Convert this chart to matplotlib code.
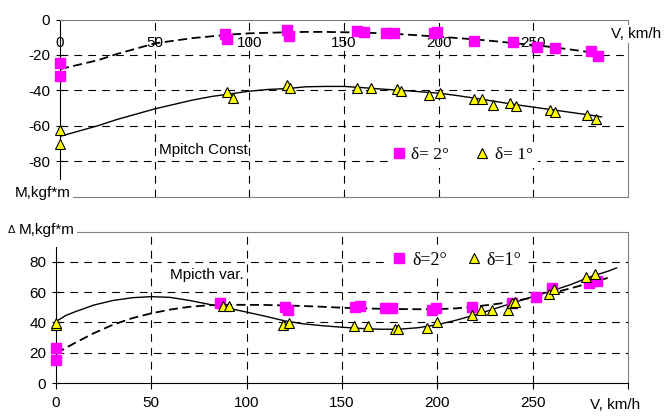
import matplotlib
matplotlib.use("Agg")
import matplotlib.pyplot as plt

plt.rcParams['font.family'] = ['Liberation Sans', 'DejaVu Sans']

speed_ticks = [0, 50, 100, 150, 200, 250, 300]
speed_labels = ['0', '50', '100', '150', '200', '250']
grid_speeds = [50, 100, 150, 200, 250]

# upper chart: pitching moment with constant setting
const_ticks = [0, -20, -40, -60, -80]
const_grid = [-20, -40, -60, -80]
const_d2_v = [0, 0, 87, 88, 120, 121, 157, 160.5, 172, 176.4, 197.6, 199.3, 218.4, 239, 252, 261.4, 280.4, 284]
const_d2_m = [-24.7, -31.8, -8, -11, -6, -9.3, -6.3, -7.2, -7.8, -7.8, -7.8, -7.2, -11.9, -12.5, -15.3, -16.2, -17.6, -20.6]
const_d1_v = [0, 0, 88.2, 91.2, 120, 121.7, 157, 164, 178, 180, 195, 200.7, 218.4, 223, 228.9, 237.6, 240.7, 258.7, 261.5, 278.3, 283]
const_d1_m = [-62.3, -70.1, -40.7, -44.4, -36.9, -38.8, -38.8, -38.8, -39.4, -40.3, -42.5, -41.6, -44.8, -44.8, -48.2, -47.2, -49.1, -51, -52.3, -53.8, -56.2]
const_fit_v = [0, 10, 20, 30, 40, 50, 60, 70, 80, 90, 100, 110, 120, 130, 140, 150, 160, 170, 180, 190, 200,
               210, 220, 230, 240, 250, 260, 270, 280, 286]
const_d2_fit = [-28, -25.5, -23, -19.5, -16.5, -13.5, -12, -10.5, -9.5, -8.5, -7.8, -7.5, -7.2, -7, -7, -7.2,
                -7.4, -7.8, -8.3, -9, -9.7, -10.5, -11.3, -12.3, -13.4, -14.4, -15.6, -17, -18.5, -19.6]
const_d1_fit = [-66, -63, -60, -56.5, -53.5, -50.5, -48, -45.5, -43.5, -42, -40.5, -39.5, -39, -38, -37.8, -37.8,
                -38.5, -39.3, -40, -40.8, -41.6, -43, -44.6, -46.3, -48, -49.5, -51, -52.5, -54, -55]

# lower chart: pitching moment increment, variable setting
var_ticks = [0, 20, 40, 60, 80]
var_grid = [20, 40, 60, 80]
var_d2_v = [0, 0, 86, 120, 121.5, 156.9, 159.5, 172.6, 176, 197, 199.4, 218, 239, 251.7, 260, 279.3, 283.7]
var_d2_m = [23.3, 15.2, 52.6, 50, 48.5, 50.4, 50.8, 49.3, 49.3, 48.2, 49.3, 50, 52.6, 57, 62.5, 65.8, 67.5]
var_d1_v = [0, 0, 87.5, 91, 119.3, 122, 156.5, 163.9, 177.9, 179.6, 194.8, 200, 218, 222.8, 228.9, 237, 239,
            240.8, 258.7, 261.3, 278, 282.8]
var_d1_m = [38.3, 39.5, 50.8, 50.8, 38.3, 39.4, 37.6, 37.6, 35.4, 35.4, 36.5, 40.5, 44.9, 48.2, 48.2, 48.2, 52.6,
            53.7, 58.5, 61.8, 70.2, 72]
var_d2_fit_v = [0, 10, 20, 30, 40, 50, 60, 70, 80, 90, 100, 110, 120, 130, 140, 150, 160, 170, 180, 190, 200,
                210, 220, 230, 240, 250, 260, 270, 280, 290]
var_d2_fit = [19.6, 26.5, 33, 38.5, 42.8, 46, 48.5, 50.3, 51.3, 51.6, 51.6, 51.5, 51.2, 50.8, 50.3, 49.7, 49.3,
              49, 48.8, 48.7, 48.7, 49.3, 50.5, 52, 53.8, 56.5, 59.3, 62.5, 66, 69.6]
var_d1_fit_v = [0, 5, 10, 20, 30, 40, 50, 60, 70, 80, 90, 100, 110, 120, 130, 140, 150, 160, 170, 180, 190, 200,
                210, 220, 230, 240, 250, 260, 270, 280, 290, 294]
var_d1_fit = [40.5, 44.5, 47, 51.5, 54.5, 56.3, 57, 56.5, 54.5, 52, 49.5, 46.8, 44, 41, 39, 37.8, 36.8, 36, 35.5,
              35.5, 36.5, 38.5, 41.5, 45, 49, 53, 57, 60.8, 65, 70, 74, 76]

gray = '#808080'
grid_kw = dict(color='black', lw=0.8, dashes=(7, 5.5), zorder=0.5)
sq_kw = dict(marker='s', ms=6.5, mfc='#ff00ff', mec='#ff00ff', ls='none', clip_on=False, zorder=4)
tri_kw = dict(marker='^', ms=7, mfc='#ffff00', mec='black', mew=0.8, ls='none', clip_on=False, zorder=5)

fig = plt.figure(figsize=(6.64, 4.16), dpi=100)
ax1 = fig.add_axes([0.0904, 0.5276, 0.8554, 0.4255])
ax2 = fig.add_axes([0.0843, 0.0793, 0.8615, 0.3642])

# ---- upper chart
ax1.set_xlim(0, 300)
ax1.set_ylim(-100, 0)
for v in grid_speeds:
    ax1.axvline(v, **grid_kw)
for m in const_grid:
    ax1.axhline(m, **grid_kw)
ax1.plot(const_fit_v, const_d2_fit, color='black', lw=1.3, dashes=(5, 2.5), zorder=3)
ax1.plot(const_fit_v, const_d1_fit, color='black', lw=1.0, zorder=3)
ax1.plot(const_d2_v, const_d2_m, label='\u03b4= 2\u00b0', **sq_kw)
ax1.plot(const_d1_v, const_d1_m, label='\u03b4= 1\u00b0', **tri_kw)

ax1.set_xticks([])
ax1.set_yticks(const_ticks)
ax1.set_yticklabels([str(t) for t in const_ticks])
ax1.tick_params(axis='y', direction='inout', length=6, width=0.8, labelsize=11, pad=4)
for s in ['top', 'right', 'bottom']:
    ax1.spines[s].set_color(gray)
ax1.spines['left'].set_bounds(-90, 0)
for v, lab in zip(speed_ticks, speed_labels):
    ax1.text(v, -13.2, lab, ha='center', va='center', fontsize=11, zorder=2)
ax1.text(52.5, -73.5, 'Mpitch Const', fontsize=11, va='center')
ax1.text(-24, -98, 'M,kgf*m', fontsize=11, va='center', clip_on=False,
         bbox=dict(fc='white', ec='none', pad=1.5), zorder=6)
ax1.text(291, -8, 'V, km/h', fontsize=11, va='center', clip_on=False,
         bbox=dict(fc='white', ec='none', pad=1.5), zorder=6)
leg1 = ax1.legend(loc='center', bbox_to_anchor=(0.71, 0.234), ncol=2, handlelength=0.6, handletextpad=0.4,
                  columnspacing=1.6, borderpad=0.3, frameon=True, fancybox=False, framealpha=1,
                  edgecolor='none', facecolor='white', prop={'family': 'Liberation Serif', 'size': 12.5})
leg1.set_zorder(6)

# ---- lower chart
ax2.set_xlim(0, 300)
ax2.set_ylim(0, 100)
for v in grid_speeds:
    ax2.axvline(v, **grid_kw)
for m in var_grid:
    ax2.axhline(m, **grid_kw)
ax2.plot(var_d2_fit_v, var_d2_fit, color='black', lw=1.3, dashes=(5, 2.5), zorder=3)
ax2.plot(var_d1_fit_v, var_d1_fit, color='black', lw=1.0, zorder=3)
ax2.plot(var_d2_v, var_d2_m, label='\u03b4=2\u00b0', **sq_kw)
ax2.plot(var_d1_v, var_d1_m, label='\u03b4=1\u00b0', **tri_kw)

ax2.set_xticks(speed_ticks)
ax2.set_xticklabels(speed_labels + [''])
ax2.set_yticks(var_ticks)
ax2.tick_params(axis='x', direction='out', length=4, width=0.8, labelsize=11, pad=5)
ax2.tick_params(axis='y', direction='inout', length=6, width=0.8, labelsize=11, pad=4)
for s in ['top', 'right']:
    ax2.spines[s].set_color(gray)
ax2.spines['left'].set_bounds(0, 90)
ax2.text(60, 71.3, 'Mpicth var.', fontsize=11, va='center')
ax2.text(-25.5, 101, '\u0394', fontsize=8, va='center', clip_on=False,
         bbox=dict(fc='white', ec='none', pad=1.5), zorder=6)
ax2.text(-19.5, 101, 'M,kgf*m', fontsize=11, va='center', clip_on=False,
         bbox=dict(fc='white', ec='none', pad=1.5), zorder=6)
ax2.text(280, -14.5, 'V, km/h', fontsize=11, va='center', clip_on=False)
leg2 = ax2.legend(loc='center', bbox_to_anchor=(0.702, 0.81), ncol=2, handlelength=0.6, handletextpad=0.4,
                  columnspacing=1.2, borderpad=0.3, frameon=True, fancybox=False, framealpha=1,
                  edgecolor='none', facecolor='white', prop={'family': 'Liberation Serif', 'size': 13})
leg2.set_zorder(6)

fig.savefig('out.png', dpi=100)
